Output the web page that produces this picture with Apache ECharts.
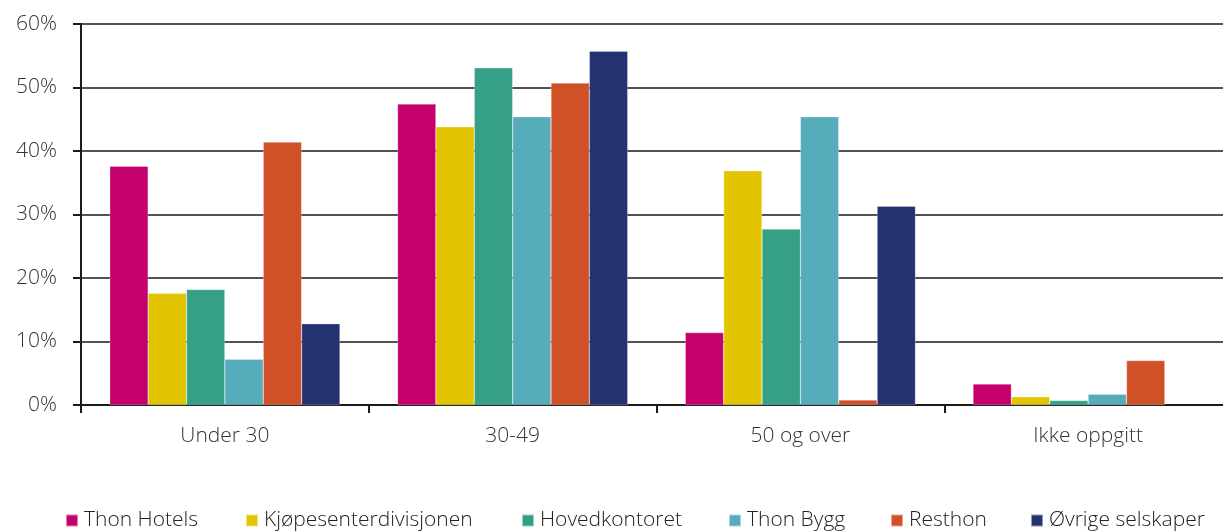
<!DOCTYPE html>
<html>
<head>
<meta charset="utf-8">
<script src="https://cdn.jsdelivr.net/npm/echarts@6/dist/echarts.min.js"></script>
<style>
  html, body { margin: 0; padding: 0; background: #fff; overflow: hidden; }
  /* plot area runs past the right edge of the window */
  #chart { width: 1240px; height: 532px; }
</style>
</head>
<body>
<div id="chart"></div>
<script>
// Age groups on the x axis
const categories = ['Under 30', '30-49', '50 og over', 'Ikke oppgitt'];

// Share of employees per age group (%)
const thonHotels = [37.6, 47.4, 11.4, 3.3];
const kjopesenter = [17.6, 43.8, 36.9, 1.3];
const hovedkontoret = [18.2, 53.1, 27.7, 0.7];
const thonBygg = [7.2, 45.4, 45.4, 1.7];
const resthon = [41.4, 50.7, 0.8, 7.0];
const ovrige = [12.8, 55.7, 31.3, null];

const seriesNames = ['Thon Hotels', 'Kjøpesenterdivisjonen', 'Hovedkontoret', 'Thon Bygg', 'Resthon', 'Øvrige selskaper'];
const seriesData = [thonHotels, kjopesenter, hovedkontoret, thonBygg, resthon, ovrige];
const colors = ['#C4006E', '#E2C500', '#35A085', '#56ACBA', '#D05128', '#243272'];

const yTicks = [0, 10, 20, 30, 40, 50, 60];
const legendLeft = [65, 245, 521, 728, 890, 1030];

const font = '"Open Sans", "Liberation Sans", sans-serif';

const chart = echarts.init(document.getElementById('chart'), null, { renderer: 'canvas' });

chart.setOption({
  animation: false,
  color: colors,
  textStyle: { fontFamily: font },
  grid: { left: 81, top: 24, width: 1151, height: 381, containLabel: false },
  legend: seriesNames.map((name, i) => ({
    data: [name],
    left: legendLeft[i],
    top: 510,
    padding: 0,
    itemWidth: 12,
    itemHeight: 12,
    itemGap: 6,
    icon: 'rect',
    textStyle: { fontFamily: font, fontSize: 21, fontWeight: 300, color: '#222', padding: [0, 0, 0, 1] },
    selectedMode: false
  })),
  xAxis: {
    type: 'category',
    data: categories,
    axisLine: { show: true, lineStyle: { color: '#1a1a1a', width: 2 } },
    axisTick: { show: true, length: 8, alignWithLabel: false, lineStyle: { color: '#1a1a1a', width: 2 } },
    axisLabel: { fontSize: 21, fontWeight: 300, color: '#333', margin: 21, fontFamily: font }
  },
  yAxis: {
    type: 'value',
    min: 0,
    max: 60,
    interval: 10,
    axisLine: { show: true, lineStyle: { color: '#1a1a1a', width: 2 } },
    axisTick: { show: true, length: 8, lineStyle: { color: '#1a1a1a', width: 2 } },
    axisLabel: {
      fontSize: 21, fontWeight: 300, color: '#333', margin: 24, fontFamily: font,
      formatter: v => (yTicks.includes(v) ? v + '%' : '')
    },
    splitLine: { show: true, lineStyle: { color: '#1a1a1a', width: 1.5 } }
  },
  series: seriesNames.map((name, i) => ({
    name: name,
    type: 'bar',
    data: seriesData[i],
    barGap: '0%',
    barCategoryGap: '20%',
    itemStyle: { color: colors[i], borderColor: 'rgba(255,255,255,0.5)', borderWidth: 0.5 }
  }))
});
</script>
</body>
</html>
